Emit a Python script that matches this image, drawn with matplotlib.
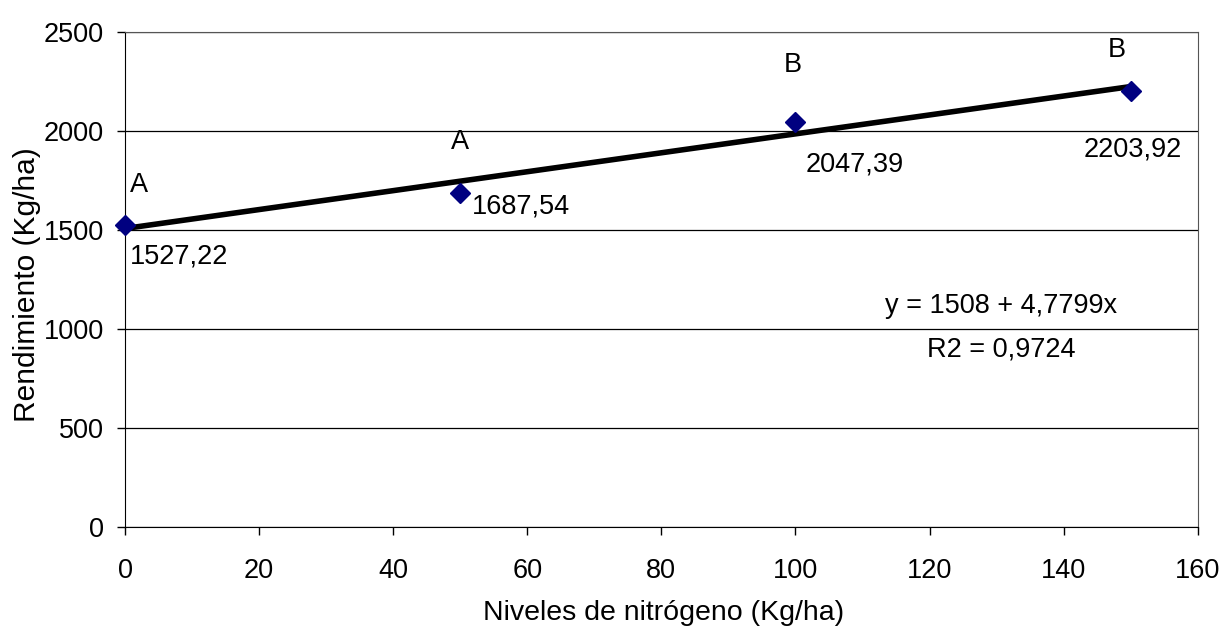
import numpy as np
import matplotlib
matplotlib.use("Agg")
import matplotlib.pyplot as plt

plt.rcParams['font.family'] = ['Liberation Sans', 'DejaVu Sans']

# data
nitrogeno = [0, 50, 100, 150]
rendimiento = [1527.22, 1687.54, 2047.39, 2203.92]
letras = ["A", "A", "B", "B"]
intercepto = 1508
pendiente = 4.7799
r2 = 0.9724

# label offsets (pixels) for letters and values
off_letra = [(14, 40), (0, 51), (-3, 57), (-14, 41)]
off_valor = [(5, -32), (12, -14), (10, -43), (-47, -59)]

FS = 19.5

fig = plt.figure(figsize=(12.28, 6.30), dpi=100)
ax = fig.add_axes([0.1018, 0.1635, 0.8735, 0.7855])

xs = np.array([nitrogeno[0], nitrogeno[-1]])
ax.plot(xs, intercepto + pendiente * xs, color="black", lw=4, zorder=3,
        solid_capstyle="butt")
ax.plot(nitrogeno, rendimiento, linestyle="none", marker="D", ms=10.5,
        color="#000080", zorder=4, clip_on=False)

for x, y, l, ol, ov in zip(nitrogeno, rendimiento, letras, off_letra, off_valor):
    ax.annotate(l, (x, y), xytext=ol, textcoords="offset pixels",
                ha="center", va="center", fontsize=FS)
    ax.annotate(f"{y:.2f}".replace(".", ","), (x, y), xytext=ov,
                textcoords="offset pixels", ha="left", va="center", fontsize=FS)

ax.text(130.7, 1116, f"y = {intercepto} + {str(pendiente).replace('.', ',')}x",
        ha="center", va="center", fontsize=FS)
ax.text(130.7, 899, f"R2 = {str(r2).replace('.', ',')}",
        ha="center", va="center", fontsize=FS)

ax.set_xlim(0, 160)
ax.set_ylim(0, 2500)
ax.set_xticks(range(0, 161, 20))
ax.set_yticks(range(0, 2501, 500))
ax.grid(axis="y", color="black", lw=0.9)
ax.set_axisbelow(True)
ax.tick_params(direction="out", length=6, width=1, labelsize=FS)
ax.tick_params(axis="x", pad=16)
ax.tick_params(axis="y", pad=9)
for s in ["top", "right"]:
    ax.spines[s].set_color("#555555")

ax.set_xlabel("Niveles de nitrógeno (Kg/ha)", fontsize=20.5)
ax.set_ylabel("Rendimiento (Kg/ha)", fontsize=21.5)
ax.xaxis.set_label_coords(0.502, -0.147)
ax.yaxis.set_label_coords(-0.078, 0.489)

fig.savefig("out.png", dpi=100)
